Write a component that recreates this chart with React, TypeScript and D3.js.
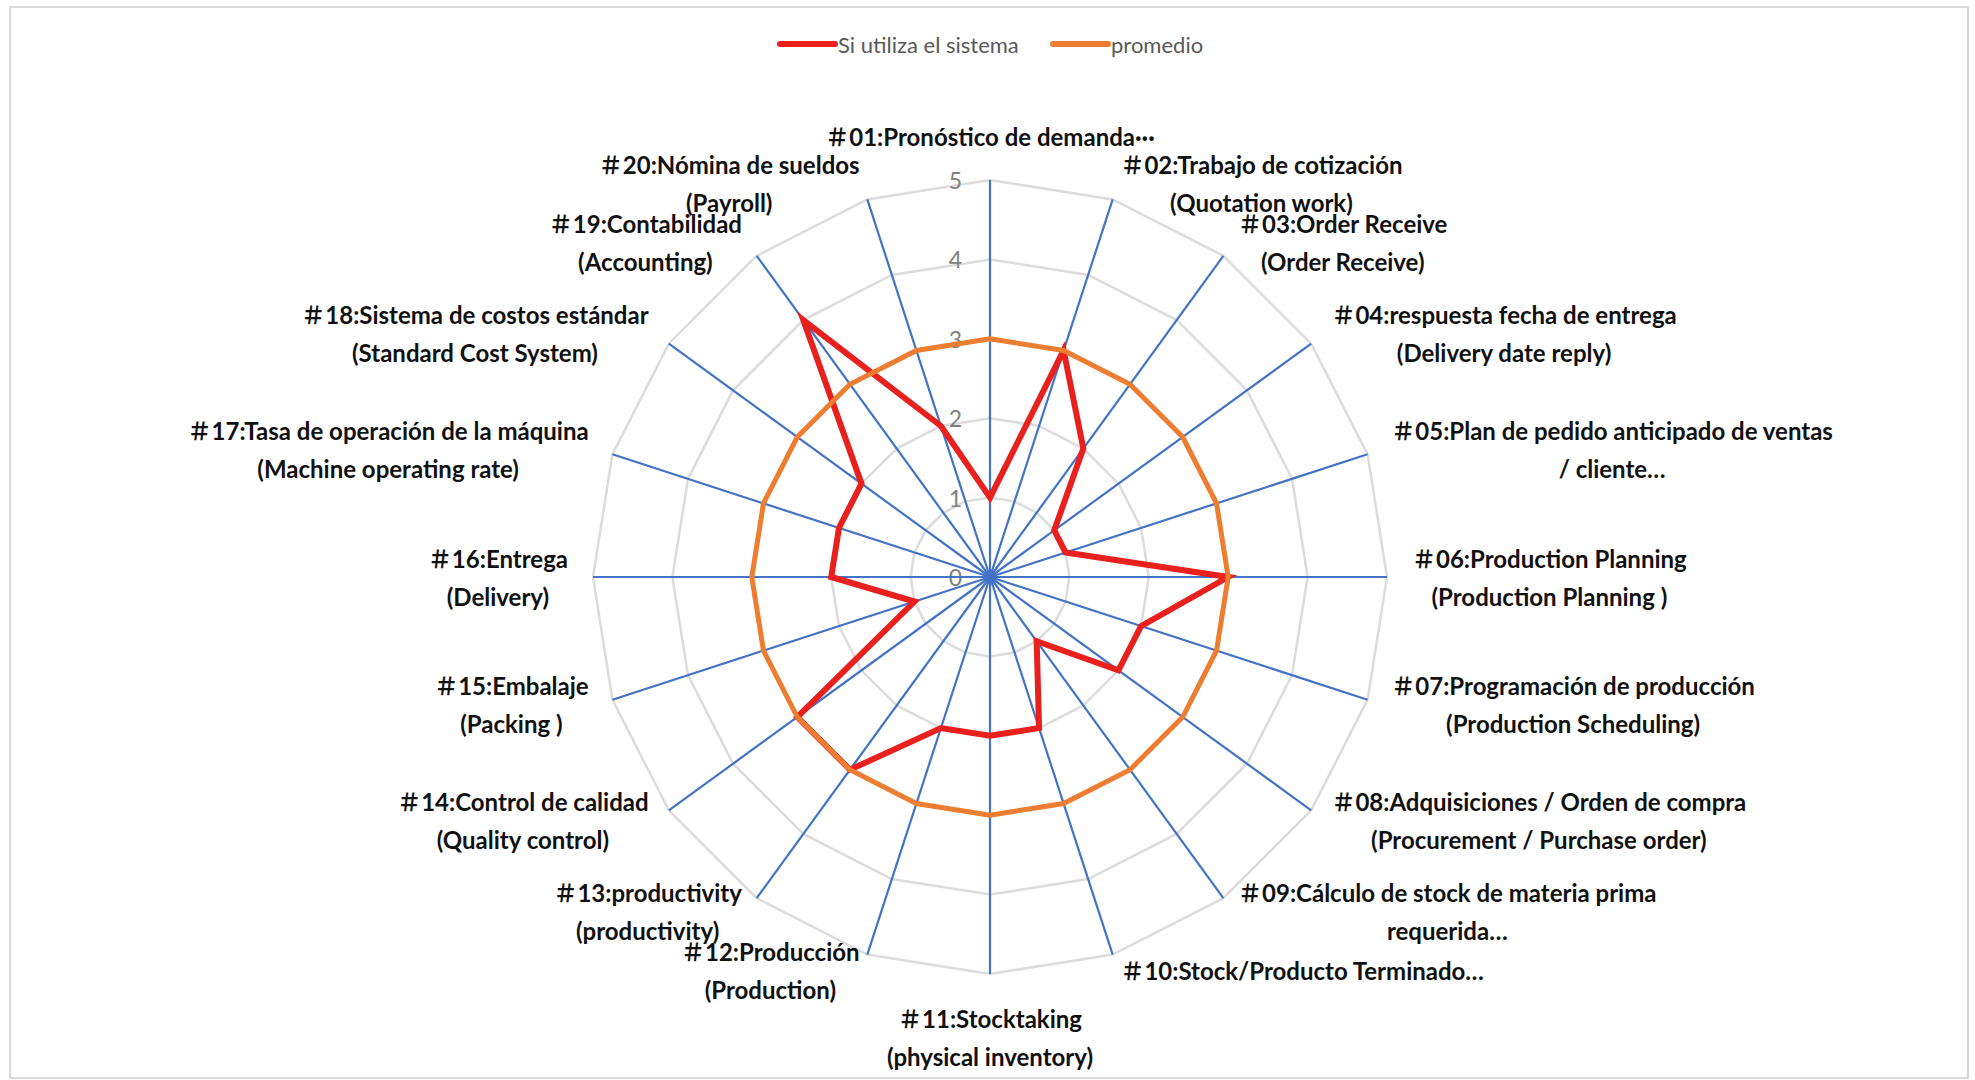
import { useEffect, useRef } from "react";
import * as d3 from "d3";

// category labels, one entry per spoke (lines of the label)
const categories: string[][] = [
  ["＃01:Pronóstico de demanda\u00b7\u00b7\u00b7"],
  ["＃02:Trabajo de cotización", "(Quotation work)"],
  ["＃03:Order Receive", "(Order Receive)"],
  ["＃04:respuesta fecha de entrega", "(Delivery date reply)"],
  ["＃05:Plan de pedido anticipado  de ventas", "/ cliente…"],
  ["＃06:Production Planning", "(Production Planning )"],
  ["＃07:Programación de producción", "(Production Scheduling)"],
  ["＃08:Adquisiciones / Orden de compra", "(Procurement / Purchase order)"],
  ["＃09:Cálculo de stock de materia prima", "requerida…"],
  ["＃10:Stock/Producto Terminado…"],
  ["＃11:Stocktaking", "(physical inventory)"],
  ["＃12:Producción", "(Production)"],
  ["＃13:productivity", "(productivity)"],
  ["＃14:Control de calidad", "(Quality control)"],
  ["＃15:Embalaje", "(Packing )"],
  ["＃16:Entrega", "(Delivery)"],
  ["＃17:Tasa de operación de la máquina", "(Machine operating rate)"],
  ["＃18:Sistema de costos estándar", "(Standard Cost System)"],
  ["＃19:Contabilidad", "(Accounting)"],
  ["＃20:Nómina de sueldos", "(Payroll)"],
];

const siUtiliza = [1, 3, 2, 1, 1, 3, 2, 2, 1, 2, 2, 2, 3, 3, 1, 2, 2, 2, 4, 2];
const promedio = [3, 3, 3, 3, 3, 3, 3, 3, 3, 3, 3, 3, 3, 3, 3, 3, 3, 3, 3, 3];
const ticks = [0, 1, 2, 3, 4, 5];

const seriesNames = ["Si utiliza el sistema", "promedio"];
const seriesColors = ["#e8201e", "#ed7d31"];

const W = 1975;
const H = 1080;
const cx = 990;
const cy = 577;
const R = 397;
const labelFont = "Lato, 'Noto Sans CJK JP', sans-serif";

export default function App() {
  const svgRef = useRef<SVGSVGElement>(null);

  useEffect(() => {
    document.body.style.margin = "0";

    const draw = () => {
      const svg = d3.select(svgRef.current);
      svg.selectAll("*").remove();

      const n = categories.length;
      const r = d3.scaleLinear().domain([0, 5]).range([0, R]);
      const angle = d3.scaleLinear().domain([0, n]).range([0, 2 * Math.PI]);

      // chart frame
      svg.append("rect")
        .attr("x", 10).attr("y", 7)
        .attr("width", W - 17).attr("height", H - 9)
        .attr("fill", "#fff")
        .attr("stroke", "#d9d9d9")
        .attr("stroke-width", 2);

      const g = svg.append("g").attr("transform", `translate(${cx},${cy})`);

      const radial = d3.lineRadial<number>()
        .angle((_, i) => angle(i))
        .radius((d) => r(d))
        .curve(d3.curveLinearClosed);

      // grid polygons
      g.selectAll(".grid")
        .data(ticks.filter((t) => t > 0))
        .join("path")
        .attr("class", "grid")
        .attr("d", (t) => radial(categories.map(() => t)))
        .attr("fill", "none")
        .attr("stroke", "#dcdcdc")
        .attr("stroke-width", 2.5);

      // tick labels
      g.selectAll(".tick")
        .data(ticks)
        .join("text")
        .attr("class", "tick")
        .attr("x", -28)
        .attr("y", (t) => -r(t))
        .attr("text-anchor", "end")
        .attr("dominant-baseline", "central")
        .attr("font-family", "Lato, sans-serif")
        .attr("font-size", 23)
        .attr("fill", "#7f7f7f")
        .text((t) => t);

      // spokes
      g.selectAll(".spoke")
        .data(categories)
        .join("line")
        .attr("class", "spoke")
        .attr("x1", 0).attr("y1", 0)
        .attr("x2", (_, i) => r(5) * Math.sin(angle(i)))
        .attr("y2", (_, i) => -r(5) * Math.cos(angle(i)))
        .attr("stroke", "#4472c4")
        .attr("stroke-width", 2.2);

      // series
      const series = [siUtiliza, promedio];
      g.selectAll(".series")
        .data(series)
        .join("path")
        .attr("class", "series")
        .attr("d", (d) => radial(d))
        .attr("fill", "none")
        .attr("stroke", (_, i) => seriesColors[i])
        .attr("stroke-width", (_, i) => (i === 0 ? 6 : 5))
        .attr("stroke-linejoin", "miter");

      // category labels
      const lineH = 38;
      const gap = 25;
      categories.forEach((lines, i) => {
        const a = angle(i);
        const s = Math.sin(a);
        const c = Math.cos(a);
        const ax = (R + gap) * s;
        const ay = -(R + gap) * c;
        const lg = g.append("g");
        const texts = lg.selectAll("text")
          .data(lines)
          .join("text")
          .attr("x", 0)
          .attr("y", (_, j) => j * lineH)
          .attr("text-anchor", "middle")
          .attr("dominant-baseline", "central")
          .attr("font-family", labelFont)
          .attr("font-weight", "bold")
          .attr("font-size", 24)
          .attr("fill", "#111")
          .text((d) => d);
        const w = d3.max(texts.nodes(), (t) => (t as SVGTextElement).getComputedTextLength()) || 0;
        const h = lines.length * lineH;
        let bx = ax;
        let by = ay + c * 8;
        if (Math.abs(s) < 0.01) {
          by = c > 0 ? ay - h / 2 : ay + h / 2;
        } else if (s > 0) {
          bx = ax + w / 2;
        } else {
          bx = ax - w / 2;
        }
        const top = by - h / 2 + lineH / 2;
        lg.attr("transform", `translate(${bx},${top})`);
      });

      // legend
      const legendX = [780, 1053];
      const lgd = svg.append("g").attr("transform", "translate(0,44)");
      seriesNames.forEach((name, i) => {
        lgd.append("line")
          .attr("x1", legendX[i]).attr("x2", legendX[i] + 55)
          .attr("y1", 0).attr("y2", 0)
          .attr("stroke", seriesColors[i])
          .attr("stroke-width", 6)
          .attr("stroke-linecap", "round");
        lgd.append("text")
          .attr("x", legendX[i] + 58)
          .attr("y", 0)
          .attr("dominant-baseline", "central")
          .attr("font-family", "Lato, sans-serif")
          .attr("font-size", 22)
          .attr("fill", "#595959")
          .text(name);
      });
    };

    if (document.fonts && document.fonts.ready) {
      document.fonts.ready.then(draw);
    }
    draw();
  }, []);

  return <svg ref={svgRef} width={W} height={H} style={{ display: "block" }} />;
}
